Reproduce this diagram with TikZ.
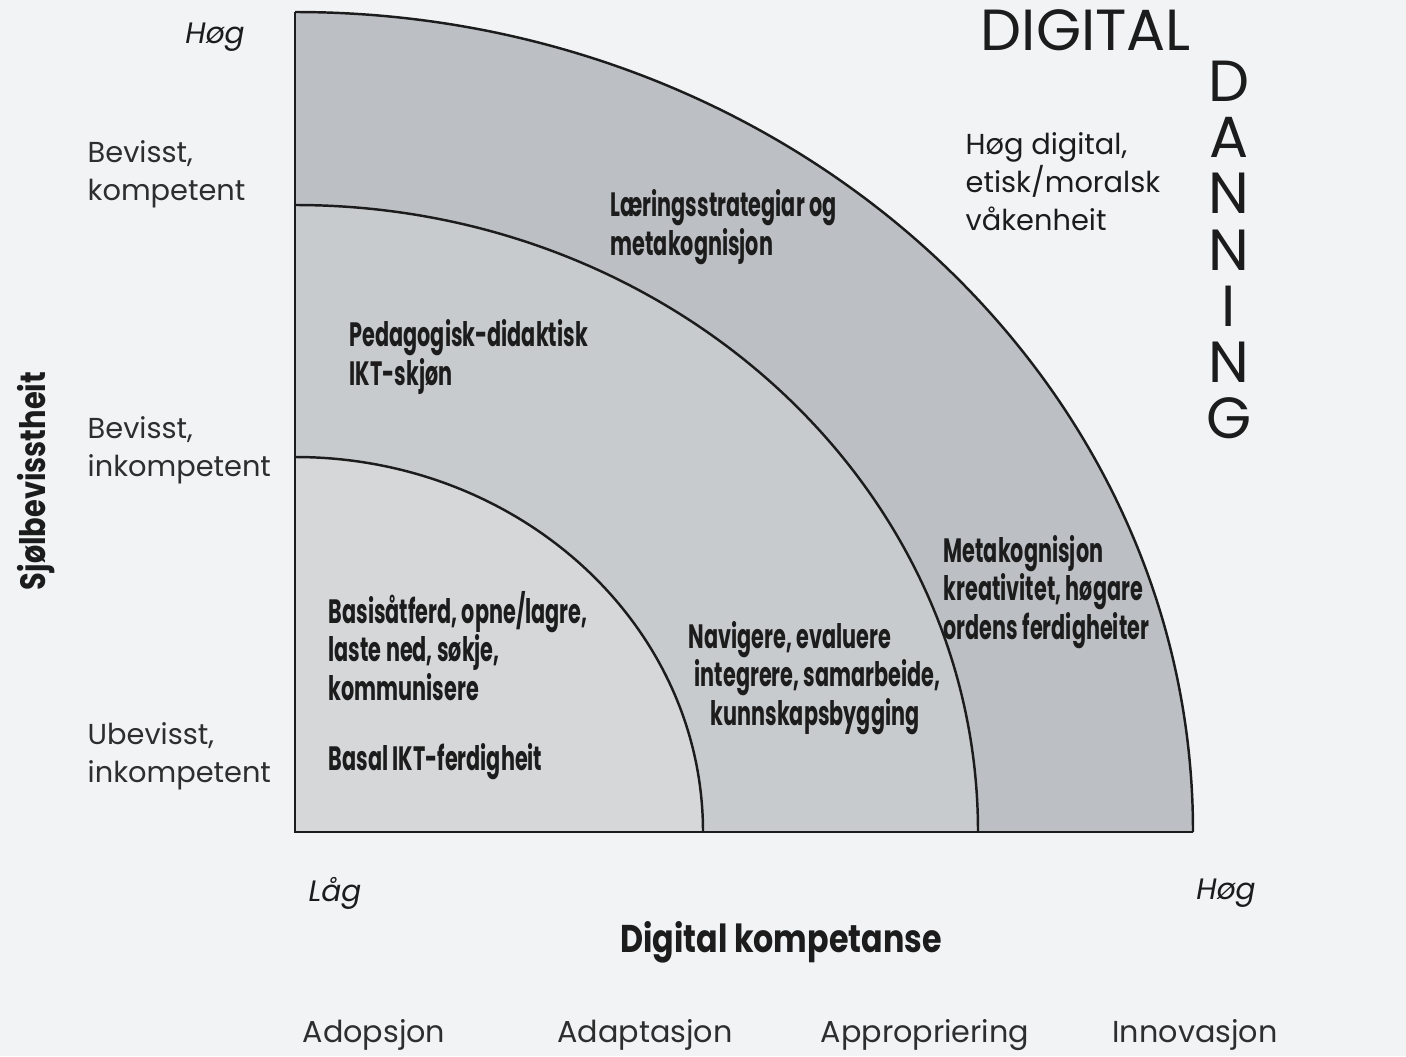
\documentclass[tikz,border=0pt]{standalone}
\usepackage{fontspec}
\setmainfont{Poppins}
\newfontfamily\condfont[FakeStretch=0.615]{Poppins}
\newfontfamily\medfont[FakeStretch=0.82]{Poppins}
\definecolor{paper}{HTML}{F1F3F5}
\definecolor{bandA}{HTML}{BCBFC3}
\definecolor{bandB}{HTML}{C8CBCE}
\definecolor{bandC}{HTML}{D5D7D9}
\definecolor{ink}{HTML}{1C1C1C}
\definecolor{softink}{HTML}{2E2E2E}
\tikzset{
  edge/.style={draw=ink, line width=0.7pt},
  lvl/.style={inner sep=0pt, anchor=west, align=left, text=softink,
              font=\fontsize{8.2}{10.8}\selectfont},
  field/.style={inner sep=0pt, anchor=west, align=left, text=ink,
              font=\condfont\bfseries\fontsize{9.6}{10.9}\selectfont},
  endlabel/.style={inner sep=0pt, text=ink, font=\itshape\fontsize{8.4}{10}\selectfont},
  phase/.style={inner sep=0pt, text=softink, font=\fontsize{8.6}{10}\selectfont},
  bigword/.style={inner sep=0pt, text=ink, font=\fontsize{16.5}{18}\selectfont},
}
\begin{document}
\begin{tikzpicture}[x=0.01cm, y=0.01cm]
  \fill[paper] (0,0) rectangle (1406,1056);
  \useasboundingbox (0,0) rectangle (1406,1056);

  % origin of the quarter ellipses
  \coordinate (O) at (295,224);
  \coordinate (topL) at (295,1044);
  \coordinate (botR) at (1193,224);

  % bands, outermost first
  \fill[bandA] (O) -- (295,1044) arc[start angle=90, end angle=0, x radius=898, y radius=820] -- cycle;
  \fill[bandB] (O) -- (295,851) arc[start angle=90, end angle=0, x radius=683, y radius=627] -- cycle;
  \fill[bandC] (O) -- (295,599) arc[start angle=90, end angle=0, x radius=408, y radius=375] -- cycle;

  % arcs and axes
  \draw[edge] (295,1044) arc[start angle=90, end angle=0, x radius=898, y radius=820];
  \draw[edge] (295,851) arc[start angle=90, end angle=0, x radius=683, y radius=627];
  \draw[edge] (295,599) arc[start angle=90, end angle=0, x radius=408, y radius=375];
  \draw[edge] (topL) -- (O) -- (botR);

  % vertical axis
  \node[endlabel] (hoegY) at (215,1019) {Høg};
  \node[lvl] (lvlA) at (87,882) {Bevisst,\\kompetent};
  \node[lvl] (lvlB) at (87,606) {Bevisst,\\inkompetent};
  \node[lvl] (lvlC) at (87,300) {Ubevisst,\\inkompetent};
  \node[inner sep=0pt, rotate=90, text=ink,
        font=\medfont\bfseries\fontsize{10}{12}\selectfont] (yaxis) at (36,575) {Sjølbevisstheit};

  % horizontal axis
  \node[endlabel] (laag) at (335,163) {Låg};
  \node[endlabel] (hoegX) at (1226,163) {Høg};
  \node[inner sep=0pt, text=ink,
        font=\medfont\bfseries\fontsize{11}{13}\selectfont] (xaxis) at (781,114) {Digital kompetanse};
  \node[phase] (p1) at (374,21) {Adopsjon};
  \node[phase] (p2) at (645,21) {Adaptasjon};
  \node[phase] (p3) at (925,21) {Appropriering};
  \node[phase] (p4) at (1195,21) {Innovasjon};

  % band texts
  \node[field] (f1) at (610,829) {Læringsstrategiar og\\metakognisjon};
  \node[field] (f2) at (349,699) {Pedagogisk-didaktisk\\IKT-skjøn};
  \node[field] (f3) at (328,410) {Basisåtferd, opne/lagre,\\laste ned, søkje,\\kommunisere};
  \node[field] (f4) at (328,294) {Basal IKT-ferdigheit};
  \node[field] (f5) at (688,378) {Navigere, evaluere\\\hspace*{0.06cm}integrere, samarbeide,\\\hspace*{0.22cm}kunnskapsbygging};
  \node[field] (f6) at (943,464) {Metakognisjon\\kreativitet, høgare\\ordens ferdigheiter};

  % top right
  \node[bigword, anchor=west] (digital) at (980,1026) {DIGITAL};
  \node[lvl, text=ink] (dannA) at (965,874) {Høg digital,\\etisk/moralsk\\våkenheit};
  \node[bigword, align=center, font=\fontsize{16.5}{16}\selectfont] (danning) at (1229,806)
    {D\\A\\N\\N\\I\\N\\G};
\end{tikzpicture}
\end{document}
